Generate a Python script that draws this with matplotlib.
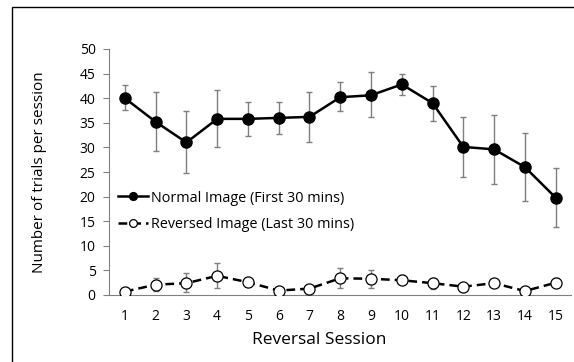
import matplotlib
matplotlib.use("Agg")
import matplotlib.pyplot as plt
from matplotlib.patches import Rectangle

plt.rcParams['font.family'] = ['Open Sans', 'DejaVu Sans']

sessions = list(range(1, 16))

normal_mean = [40.0, 35.2, 31.0, 35.8, 35.8, 36.0, 36.2, 40.2, 40.6, 42.8, 39.0, 30.1, 29.6, 26.0, 19.8]
normal_upper = [42.6, 41.2, 37.5, 41.6, 39.3, 39.2, 41.2, 43.2, 45.3, 44.9, 42.5, 36.2, 36.6, 32.9, 25.8]
normal_lower = [37.6, 29.3, 24.8, 30.1, 32.3, 32.8, 31.0, 37.3, 36.1, 40.7, 35.4, 24.0, 22.5, 19.1, 13.9]

reversed_mean = [0.7, 2.1, 2.4, 3.9, 2.6, 0.9, 1.3, 3.4, 3.3, 3.0, 2.4, 1.7, 2.4, 0.8, 2.5]
reversed_upper = [0.9, 3.4, 4.4, 6.6, 3.5, 1.1, 1.6, 5.5, 5.1, 4.0, 3.5, 2.0, 2.7, 1.0, 3.5]
reversed_lower = [0.5, 0.9, 0.7, 1.4, 1.9, 0.7, 1.0, 1.5, 1.4, 2.2, 1.3, 1.4, 2.1, 0.6, 1.6]

normal_err = [[m - lo for m, lo in zip(normal_mean, normal_lower)],
              [hi - m for m, hi in zip(normal_mean, normal_upper)]]
reversed_err = [[m - lo for m, lo in zip(reversed_mean, reversed_lower)],
                [hi - m for m, hi in zip(reversed_mean, reversed_upper)]]

fig = plt.figure(figsize=(5.74, 3.62), dpi=100)
ax = fig.add_axes([109.5 / 574, 1 - 295 / 362, (571 - 109.5) / 574, (295 - 49) / 362])

# chart area border (cut off on right and bottom like the source)
fig.patches.append(Rectangle((11.5 / 574, -0.1), 1.2, 1 - 6.5 / 362 + 0.1,
                             transform=fig.transFigure, fill=False,
                             edgecolor='black', linewidth=1.0))

ax.errorbar(sessions, normal_mean, yerr=normal_err, fmt='none',
            ecolor='#7f7f7f', elinewidth=1.0, capsize=2.5, capthick=1.0, zorder=1)
ax.errorbar(sessions, reversed_mean, yerr=reversed_err, fmt='none',
            ecolor='#7f7f7f', elinewidth=1.0, capsize=2.5, capthick=1.0, zorder=1)

ax.plot(sessions, normal_mean, color='black', linewidth=1.8, marker='o',
        markersize=8, markerfacecolor='black', markeredgecolor='black',
        label='Normal Image (First 30 mins)', zorder=3)
ax.plot(sessions, reversed_mean, color='black', linewidth=1.8, linestyle=(0, (3.5, 2)),
        marker='o', markersize=8, markerfacecolor='white', markeredgecolor='black',
        markeredgewidth=0.9, label='Reversed Image (Last 30 mins)', zorder=3)

ax.set_xlim(0.5, 15.5)
ax.set_ylim(0, 50)
ax.set_yticks(range(0, 51, 5))
ax.set_xticks(sessions)

for side in ['top', 'right']:
    ax.spines[side].set_visible(False)
ax.spines['left'].set_color('#808080')
ax.spines['bottom'].set_color('#808080')
ax.tick_params(axis='y', direction='out', length=4, color='#808080', labelsize=10, pad=6)
ax.tick_params(axis='x', length=0, labelsize=10, pad=10)

ax.set_ylabel('Number of trials per session', fontsize=11)
ax.yaxis.set_label_coords(-0.135, 0.5)
ax.set_xlabel('Reversal Session', fontsize=12.5)
ax.xaxis.set_label_coords(0.454, -0.15)

ax.legend(loc='upper left', bbox_to_anchor=(0.0, 0.46), frameon=False,
          fontsize=10.4, handlelength=2.1, handletextpad=0.2, labelspacing=0.8,
          borderaxespad=0.2, markerscale=0.7)

fig.savefig('out.png', dpi=100)
